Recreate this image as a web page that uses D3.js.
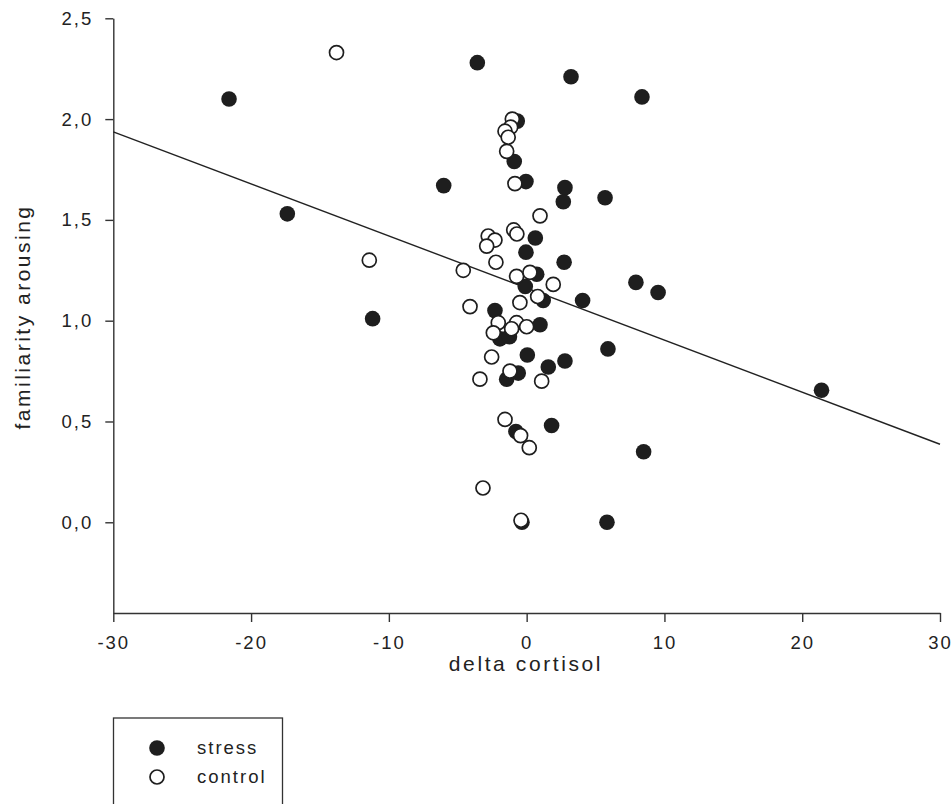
<!DOCTYPE html>
<html><head><meta charset="utf-8">
<script src="https://cdn.jsdelivr.net/npm/d3@7"></script>
<style>
body{margin:0;background:#fff;}
text{font-family:Arial,"Liberation Sans",sans-serif;fill:#222;}
</style></head>
<body>
<svg id="c" width="952" height="804"></svg>
<script>
// stress group: [delta cortisol, familiarity arousing]
const stressX = [-21.6,-3.58,3.22,8.37,-17.37,-11.18,-6.02,-0.68,-0.90,-0.05,2.78,2.66,5.69,0.63,-0.05,2.72,0.73,-0.10,4.06,1.20,7.93,9.54,-2.30,0.97,-1.94,-1.25,0.05,5.90,2.78,1.57,-0.61,-1.45,21.4,1.81,-0.78,8.49,-0.34,5.83];
const stressY = [2.10,2.28,2.21,2.11,1.53,1.01,1.67,1.99,1.79,1.69,1.66,1.59,1.61,1.41,1.34,1.29,1.23,1.17,1.10,1.10,1.19,1.14,1.05,0.98,0.91,0.92,0.83,0.86,0.80,0.77,0.74,0.71,0.655,0.48,0.45,0.35,0.00,0.00];
// control group
const controlX = [-13.8,-11.42,-4.6,-4.11,-1.04,-1.16,-1.57,-1.34,-1.45,-0.85,0.97,-2.79,-2.30,-2.90,-0.94,-0.71,-2.23,-0.73,0.24,1.93,0.80,-0.49,-2.06,-0.73,0.00,-2.42,-1.09,-2.54,-1.21,-3.39,1.09,-1.57,-0.44,0.19,-3.17,-0.41];
const controlY = [2.33,1.30,1.25,1.07,2.00,1.96,1.94,1.91,1.84,1.68,1.52,1.42,1.40,1.37,1.45,1.43,1.29,1.22,1.24,1.18,1.12,1.09,0.99,0.99,0.97,0.94,0.96,0.82,0.75,0.71,0.70,0.51,0.43,0.37,0.17,0.01];
// regression line: intercept, slope
const regIntercept = 1.162;
const regSlope = -0.02583;
const xTicks = [-30,-20,-10,0,10,20,30];
const yTicks = [0,0.5,1.0,1.5,2.0,2.5];
const legendLabels = ["stress","control"];

const svg = d3.select("#c");
const x = d3.scaleLinear().domain([-30,30]).range([113.3,940]);
const y = d3.scaleLinear().domain([-0.45,2.5]).range([613,18.3]);
const fmtY = d => d3.format(".1f")(d).replace(".",",");
const fmtX = d => String(d);

const axStyle = g => {
  g.select(".domain").attr("stroke","#333").attr("stroke-width",1.4);
  g.selectAll(".tick line").attr("stroke","#333").attr("stroke-width",1.4);
  g.selectAll(".tick text").attr("fill","#222").style("font-size","18.5px")
   .style("font-family","Arial, 'Liberation Sans', sans-serif").style("letter-spacing","2px");
};
svg.append("g").attr("transform","translate(0,613)")
  .call(d3.axisBottom(x).tickValues(xTicks).tickSize(9).tickSizeOuter(0).tickPadding(14).tickFormat(fmtX))
  .call(axStyle);
svg.append("g").attr("transform","translate(113.3,0)")
  .call(d3.axisLeft(y).tickValues(yTicks).tickSize(8).tickSizeOuter(0).tickPadding(12).tickFormat(fmtY))
  .call(axStyle);

// regression line
svg.append("line")
  .attr("x1",x(-30)).attr("y1",y(regIntercept+regSlope*-30))
  .attr("x2",x(30)).attr("y2",y(regIntercept+regSlope*30))
  .attr("stroke","#222").attr("stroke-width",1.4);

const stress = stressX.map((d,i)=>({x:d,y:stressY[i]}));
const control = controlX.map((d,i)=>({x:d,y:controlY[i]}));

svg.append("g").selectAll("circle").data(stress).join("circle")
  .attr("cx",d=>x(d.x)).attr("cy",d=>y(d.y)).attr("r",7.8).attr("fill","#1e1e1e");
svg.append("g").selectAll("circle").data(control).join("circle")
  .attr("cx",d=>x(d.x)).attr("cy",d=>y(d.y)).attr("r",7)
  .attr("fill","#fff").attr("stroke","#1e1e1e").attr("stroke-width",1.7);

// axis titles
svg.append("text").attr("x",526).attr("y",671).attr("text-anchor","middle")
  .style("font-size","21px").style("letter-spacing","2.6px").text("delta cortisol");
svg.append("text").attr("transform","translate(30,317) rotate(-90)").attr("text-anchor","middle")
  .style("font-size","21px").style("letter-spacing","2.5px").text("familiarity arousing");

// legend
svg.append("rect").attr("x",113.5).attr("y",718).attr("width",169).attr("height",120)
  .attr("fill","none").attr("stroke","#333").attr("stroke-width",1.3);
const lg = svg.append("g");
legendLabels.forEach((lab,i)=>{
  const cy = 748 + i*29;
  if(i===0) lg.append("circle").attr("cx",157).attr("cy",cy).attr("r",7.8).attr("fill","#1e1e1e");
  else lg.append("circle").attr("cx",157).attr("cy",cy).attr("r",7).attr("fill","#fff").attr("stroke","#1e1e1e").attr("stroke-width",1.7);
  lg.append("text").attr("x",197).attr("y",cy+6).style("font-size","18.5px").style("letter-spacing","2px").text(lab);
});
</script>
</body></html>
